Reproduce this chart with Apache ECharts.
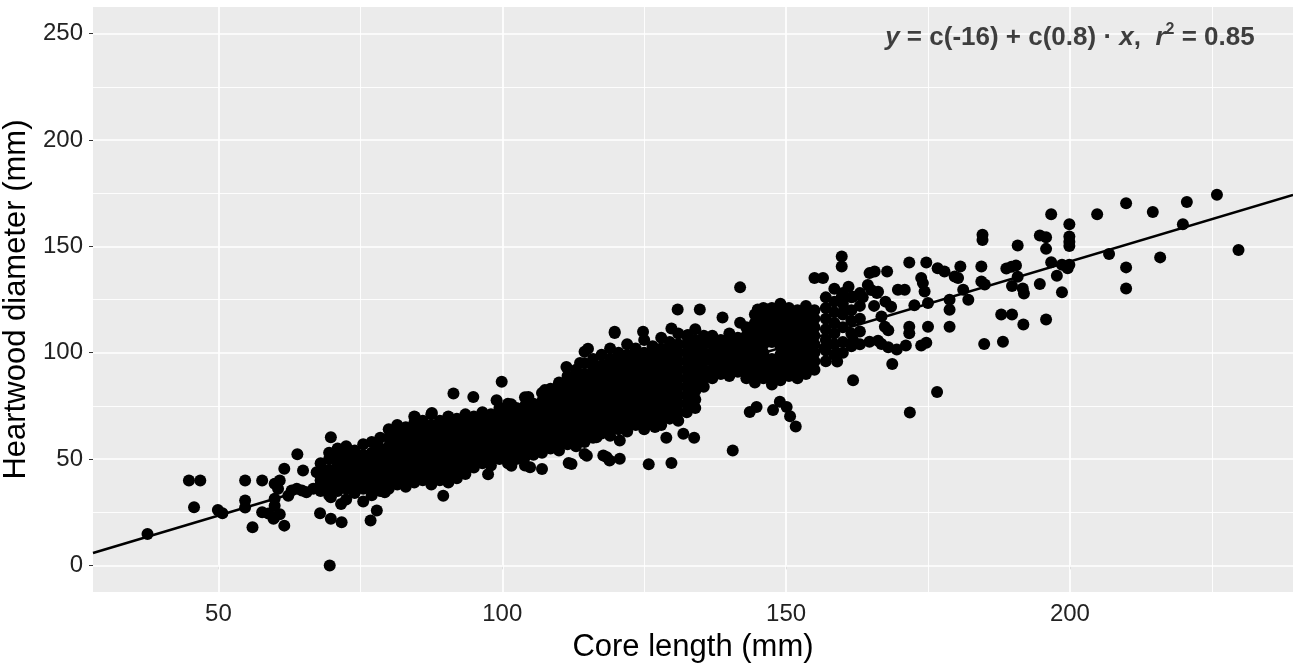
<!DOCTYPE html>
<html>
<head>
<meta charset="utf-8">
<script src="https://cdn.jsdelivr.net/npm/echarts@6/dist/echarts.min.js"></script>
<style>
  html, body { margin: 0; padding: 0; background: #fff; }
  #chart { width: 1293px; height: 666px; }
</style>
</head>
<body>
<div id="chart"></div>
<script>
// axis ticks and grid
var xTicks = [50, 100, 150, 200];
var yTicks = [0, 50, 100, 150, 200, 250];
var xMinor = [75, 125, 175, 225];
var yMinor = [25, 75, 125, 175, 225];

// fitted line, read at the panel edges
var lineX = [27.9, 239.3];
var lineY = [5.8, 174.2];

// scattered points, left end
var leftPoints = [
  [37.5,14.8],[44.8,39.9],[46.8,39.9],[45.7,27.3],[49.9,26.1],[50.7,24.5],[54.7,39.9],[54.7,30.5],
  [54.7,27.2],[56,17.9],[57.7,39.9],[57.7,25],[58.8,24.4],[59.9,22.7],[60.8,24],[59.7,21.9],
  [61.6,18.7],[59.9,38.4],[60.8,39.9],[60.5,36],[59.9,31.3],[59.9,28],[61.6,45.4],[63.9,52.2],
  [62.3,32.8],[62.9,35.2],[63.8,36],[64.7,35.2],[65.5,34.4],[64.9,44.6],[66.7,36],[67.9,37.6],
  [67.3,43.8],[67.9,24.5],[69.8,21.9],[69.8,60.3],[69.6,0],[69.8,32],[71.7,20.3],[71.6,28.9],
  [76.8,21.1],[77.9,25.8],[78.2,55.6],[79.3,34.4]
];

// scattered points, middle
var midPoints = [
  [119.8,109.3],[115.1,101.9],[114.5,100.4],[111.3,93.3],[113.7,95.2],[115.7,94.9],[117.8,94.1],
  [99.9,86.3],[91.4,80.8],[94.9,79.2],[99,77.6],[101.6,75.7],[84.6,69.8],[87.6,71.6],[90.5,69.8],
  [97,69.8],[104.6,79.2],[107.5,82.4],[109.9,84.8],[101.6,46.9],[97.5,42.9],[89.6,32.8],
  [112.2,47.7],[114.9,51.6],[118.4,50.9],[120.7,58.7],[114.3,61.8],[104.9,46.1],[107,45.3],
  [141.9,130.7],[130.9,120.3],[134.8,120.3],[145,120.3],[146.7,120.3],[138.8,116.5],[141.9,114.1],
  [119.8,109.8],[124.8,109.8],[129.8,111.4],[132.7,108.3],[140.6,54],[143.6,72.1],[144.8,74.5],
  [147.7,73],[148.9,76.9],[150.1,74.5],[150.7,70.1],[151.7,65.3],[133.8,60],[128.9,60],[129.8,48.1],
  [125.8,47.5],[120.7,50.1],[118.9,49.3],[117.8,51.7],[114.5,52.4],[111.7,48.1],[116.6,60.3],
  [113.4,61.9],[112.5,62.6],[126.9,65.1],[131.9,61.9]
];

// scattered points, right end
var rightPoints = [
  [184.6,155.4],[184.6,153],[159.8,145.2],[159.8,140.5],[171.7,142.4],[174.7,142.4],[176.7,139.7],
  [177.9,138.2],[180.7,140.5],[165.6,138.2],[164.7,137.4],[167.8,138.2],[155,135.1],[156.5,135.1],
  [184.4,140.5],[184.4,133.5],[185,132],[180.3,135.1],[179.7,135.8],[181.2,129.6],[182.1,124.9],
  [178.8,124.9],[178.8,120.2],[178.8,112.2],[184.9,104.1],[175,112.2],[173.8,103.4],[174.7,104.7],
  [171.7,112.2],[171.7,109.1],[171.1,103.4],[170.9,129.6],[169.7,129.6],[173.8,135.1],[174.1,132.7],
  [174.4,128.8],[175,123.3],[172.6,122.3],[168.7,94.7],[164.7,105.1],[161.8,87],[176.6,81.5],
  [171.8,71.9],[168,102.5],[166.8,104.1],[166.2,105.6],[161.8,105.9],[159,99.7],[159,95.8],
  [156.8,102.1],[169.5,101.5],[164.4,131.8],[166,128],[167.5,124],[165.5,122],[168.5,121.6],
  [163.5,126],[159.8,126.3],[161,131],[161.8,126.3],[160.3,120.1],[165,129.5],[166.2,128.7],
  [166.8,117],[167.4,112.2],[168,110.6],
  [225.9,174.2],[220.6,170.8],[209.9,170.3],[214.6,166.1],[196.7,165.1],[204.8,165.1],[199.9,160.4],
  [194.7,155.1],[195.8,154.3],[199.9,154.6],[199.9,152.2],[199.9,150.2],[190.8,150.4],[195.8,148.8],
  [219.9,160.4],[229.7,148.3],[206.9,146.4],[215.9,144.8],[209.9,140.1],[209.9,130.2],[196.7,142.5],
  [198.6,141.3],[199.9,141.3],[199.6,139.7],[197.7,136.2],[198.6,128.4],[194.7,132.3],[188.8,139.6],
  [189.7,140.4],[190.5,141],[190.8,135.7],[189.8,131.4],[191.7,130.2],[191.9,127.8],[187.9,117.9],
  [189.8,117.9],[191.8,113.3],[195.8,115.6],[188.2,105.1]
];

// dense band: core length column and the heartwood values stacked in it
var band = [
  [68, [35,40,44,48]],
  [69.5, [33,37,41,45,50,53]],
  [71, [35,39,43,47,51,55]],
  [72.5, [31,36,40,44,48,52,56]],
  [74, [34,38,42,46,50,54]],
  [75.5, [30,36,40,44,48,52,57]],
  [77, [33,37,41,45,49,53,58]],
  [78.5, [35,39,43,47,51,55,60]],
  [80, [36,40,44,48,52,56,60,64]],
  [81.5, [38,42,46,50,54,58,62,66]],
  [83, [37,41,45,49,53,57,61,65]],
  [84.5, [39,43,47,51,55,59,63,67,70]],
  [86, [40,44,48,52,56,60,64,68]],
  [87.5, [38,42,46,50,54,58,62,66,71]],
  [89, [40,44,48,52,56,60,64,68]],
  [90.5, [39,43,47,51,55,59,63,67,70]],
  [92, [41,45,49,53,57,61,65,69]],
  [93.5, [43,47,51,55,59,63,67,71]],
  [95, [46,50,54,58,62,66,70]],
  [96.5, [48,52,56,60,64,68,72]],
  [98, [47,51,55,59,63,67,71]],
  [99.5, [50,54,58,62,66,70,74]],
  [101, [48,52,56,60,64,68,72,76]],
  [102.5, [50,54,58,62,66,70,74]],
  [104, [47,51,55,59,63,67,71,75,79]],
  [105.5, [52,56,60,64,68,72,76]],
  [107, [53,57,61,65,69,73,77,81]],
  [108.5, [55,59,63,67,71,75,79,83]],
  [110, [54,58,62,66,70,74,78,82,86]],
  [111.5, [57,61,65,69,73,77,81,85,89]],
  [113, [56,60,64,68,72,76,80,84,88,92]],
  [114.5, [58,62,66,70,74,78,82,86,90,95]],
  [116, [60,64,68,72,76,80,84,88,92,97]],
  [117.5, [62,66,70,74,78,82,86,90,94,99]],
  [119, [61,65,69,73,77,81,85,89,93,97,102]],
  [120.5, [64,68,72,76,80,84,88,92,96,100]],
  [122, [63,67,71,75,79,83,87,91,95,99,104]],
  [123.5, [66,70,74,78,82,86,90,94,98,102]],
  [125, [64,68,72,76,80,84,88,92,96,100,106]],
  [126.5, [67,71,75,79,83,87,91,95,99,103]],
  [128, [66,70,74,78,82,86,90,94,98,102,107]],
  [129.5, [69,73,77,81,85,89,93,97,101,105]],
  [131, [68,72,76,80,84,88,92,96,100,104,109]],
  [132.5, [72,76,80,84,88,92,96,100,104,108]],
  [134, [74,78,82,86,90,94,98,102,106,111]],
  [135.5, [84,88,92,96,100,104,108]],
  [137, [88,92,96,100,104,108]],
  [138.5, [90,94,98,102,106]],
  [140, [89,93,97,101,105,109]],
  [141.5, [91,95,99,103,107]],
  [143, [88,92,96,100,104,108,112]],
  [144.5, [86,90,94,98,102,106,110,114,118]],
  [146, [88,92,96,100,104,108,112,116,121]],
  [147.5, [85,89,93,97,105,109,113,117,121]],
  [149, [87,91,95,99,103,107,111,115,119,123]],
  [150.5, [89,93,97,101,105,109,113,117,121]],
  [152, [88,92,96,100,104,108,112,116,120]],
  [153.5, [90,94,98,102,106,110,114,118,122]],
  [155, [92,96,100,104,108,112,116,120]],
  [157, [96,101,106,111,116,121,126]],
  [158.5, [99,104,109,114,119,124,130]],
  [160, [100,105,112,118,123,128]],
  [161.5, [103,109,115,120,126]],
  [163, [104,110,116,122,128]]
];

var points = leftPoints.concat(midPoints, rightPoints);
band.forEach(function (col) {
    col[1].forEach(function (v) {
        points.push([col[0], v]);
    });
});

var font = 'Liberation Sans, Arial, sans-serif';

var gridLines = [];
xTicks.forEach(function (v) { gridLines.push({ xAxis: v, lineStyle: { width: 1.7 } }); });
yTicks.forEach(function (v) { gridLines.push({ yAxis: v, lineStyle: { width: 1.7 } }); });
xMinor.forEach(function (v) { gridLines.push({ xAxis: v, lineStyle: { width: 0.9 } }); });
yMinor.forEach(function (v) { gridLines.push({ yAxis: v, lineStyle: { width: 0.9 } }); });

var myChart = echarts.init(document.getElementById('chart'));

var option = {
    animation: false,
    grid: {
        left: 93, right: 0, top: 7, bottom: 74,
        show: true, backgroundColor: '#EBEBEB', borderWidth: 0,
        containLabel: false, outerBoundsMode: 'none'
    },
    xAxis: {
        type: 'value',
        min: 27.9, max: 239.3,
        name: 'Core length (mm)',
        nameLocation: 'middle',
        nameGap: 40,
        nameTextStyle: { fontSize: 31, color: '#000', fontFamily: font },
        axisLine: { show: false },
        axisTick: { show: true, length: 4, customValues: xTicks, lineStyle: { color: '#333', width: 1 } },
        axisLabel: { customValues: xTicks, fontSize: 24, color: '#222', margin: 10, fontFamily: font },
        splitLine: { show: false }
    },
    yAxis: {
        type: 'value',
        min: -12.5, max: 262.5,
        name: 'Heartwood diameter (mm)',
        nameLocation: 'middle',
        nameGap: 52,
        nameTextStyle: { fontSize: 31, color: '#000', fontFamily: font },
        axisLine: { show: false },
        axisTick: { show: true, length: 4, customValues: yTicks, lineStyle: { color: '#333', width: 1 } },
        axisLabel: { customValues: yTicks, fontSize: 24, color: '#222', margin: 10, fontFamily: font },
        splitLine: { show: false }
    },
    series: [
        {
            // panel grid lines
            type: 'line',
            data: [],
            z: 1,
            silent: true,
            markLine: {
                z: 1,
                silent: true,
                symbol: 'none',
                label: { show: false },
                lineStyle: { color: '#ffffff', type: 'solid' },
                data: gridLines
            }
        },
        {
            type: 'scatter',
            data: points,
            symbol: 'circle',
            symbolSize: 12,
            itemStyle: { color: '#000', opacity: 1 },
            zlevel: 1,
            z: 3
        },
        {
            type: 'line',
            data: [[lineX[0], lineY[0]], [lineX[1], lineY[1]]],
            symbol: 'none',
            lineStyle: { color: '#000', width: 2.5 },
            zlevel: 1,
            z: 4
        },
        {
            // equation label
            type: 'scatter',
            data: [[200, 250]],
            symbolSize: 0,
            zlevel: 1,
            z: 5,
            label: {
                show: true,
                position: 'inside',
                offset: [0, 4],
                formatter: '{i|y}{n| = c(-16) + c(0.8) · }{i|x}{n|,  }{i|r}{s|2}{n| = 0.85}',
                rich: {
                    n: { fontSize: 26, fontWeight: 'bold', color: '#111', fontFamily: font, lineHeight: 32 },
                    i: { fontSize: 26, fontWeight: 'bold', fontStyle: 'italic', color: '#111', fontFamily: font, lineHeight: 32 },
                    s: { fontSize: 16, fontWeight: 'bold', color: '#111', fontFamily: font, verticalAlign: 'top', lineHeight: 32 }
                }
            }
        }
    ]
};

myChart.setOption(option);
</script>
</body>
</html>
